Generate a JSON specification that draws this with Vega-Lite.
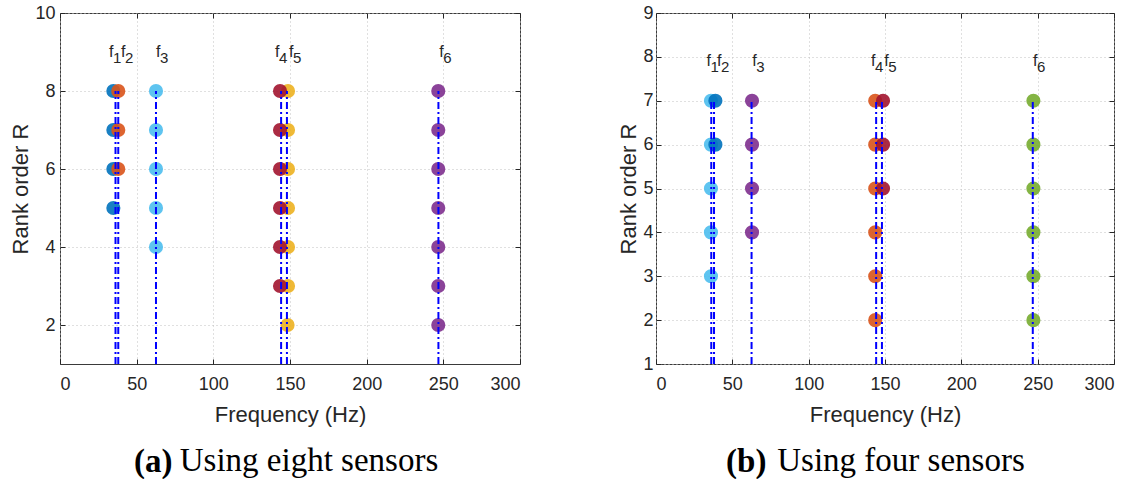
{
  "$schema": "https://vega.github.io/schema/vega-lite/v6.json",
  "background": "white",
  "padding": {"left": 9, "top": 3, "right": 5, "bottom": 0},
  "resolve": {"scale": {"color": "independent"}},
  "datasets": {
    "a_points": [
      {"mode": "f1", "freq": 34.8, "rank": 8}, {"mode": "f1", "freq": 34.8, "rank": 7}, {"mode": "f1", "freq": 34.8, "rank": 6}, {"mode": "f1", "freq": 34.8, "rank": 5},
      {"mode": "f2", "freq": 38.0, "rank": 8}, {"mode": "f2", "freq": 38.0, "rank": 7}, {"mode": "f2", "freq": 38.0, "rank": 6},
      {"mode": "f3", "freq": 62.6, "rank": 8}, {"mode": "f3", "freq": 62.6, "rank": 7}, {"mode": "f3", "freq": 62.6, "rank": 6}, {"mode": "f3", "freq": 62.6, "rank": 5}, {"mode": "f3", "freq": 62.6, "rank": 4},
      {"mode": "f5", "freq": 148.7, "rank": 8}, {"mode": "f5", "freq": 148.7, "rank": 7}, {"mode": "f5", "freq": 148.7, "rank": 6}, {"mode": "f5", "freq": 148.7, "rank": 5}, {"mode": "f5", "freq": 148.7, "rank": 4}, {"mode": "f5", "freq": 148.7, "rank": 3}, {"mode": "f5", "freq": 148.4, "rank": 2},
      {"mode": "f4", "freq": 143.5, "rank": 8}, {"mode": "f4", "freq": 143.5, "rank": 7}, {"mode": "f4", "freq": 143.5, "rank": 6}, {"mode": "f4", "freq": 143.5, "rank": 5}, {"mode": "f4", "freq": 143.5, "rank": 4}, {"mode": "f4", "freq": 143.5, "rank": 3},
      {"mode": "f6", "freq": 246.7, "rank": 8}, {"mode": "f6", "freq": 246.7, "rank": 7}, {"mode": "f6", "freq": 246.7, "rank": 6}, {"mode": "f6", "freq": 246.7, "rank": 5}, {"mode": "f6", "freq": 246.7, "rank": 4}, {"mode": "f6", "freq": 246.7, "rank": 3}, {"mode": "f6", "freq": 246.7, "rank": 2}
    ],
    "b_points": [
      {"mode": "f1", "freq": 36.0, "rank": 7}, {"mode": "f1", "freq": 36.0, "rank": 6}, {"mode": "f1", "freq": 36.0, "rank": 5}, {"mode": "f1", "freq": 36.0, "rank": 4}, {"mode": "f1", "freq": 36.0, "rank": 3},
      {"mode": "f2", "freq": 38.9, "rank": 7}, {"mode": "f2", "freq": 38.9, "rank": 6},
      {"mode": "f3", "freq": 62.9, "rank": 7}, {"mode": "f3", "freq": 62.9, "rank": 6}, {"mode": "f3", "freq": 62.9, "rank": 5}, {"mode": "f3", "freq": 62.9, "rank": 4},
      {"mode": "f4", "freq": 143.6, "rank": 7}, {"mode": "f4", "freq": 143.6, "rank": 6}, {"mode": "f4", "freq": 143.6, "rank": 5}, {"mode": "f4", "freq": 143.6, "rank": 4}, {"mode": "f4", "freq": 143.6, "rank": 3}, {"mode": "f4", "freq": 143.6, "rank": 2},
      {"mode": "f5", "freq": 148.7, "rank": 7}, {"mode": "f5", "freq": 148.7, "rank": 6}, {"mode": "f5", "freq": 148.7, "rank": 5},
      {"mode": "f6", "freq": 247.2, "rank": 7}, {"mode": "f6", "freq": 247.2, "rank": 6}, {"mode": "f6", "freq": 247.2, "rank": 5}, {"mode": "f6", "freq": 247.2, "rank": 4}, {"mode": "f6", "freq": 247.2, "rank": 3}, {"mode": "f6", "freq": 247.2, "rank": 2}
    ],
    "a_lines": [
      {"freq": 36.2, "r0": 1, "r1": 8}, {"freq": 38.0, "r0": 1, "r1": 8}, {"freq": 62.6, "r0": 1, "r1": 8},
      {"freq": 144.2, "r0": 1, "r1": 8}, {"freq": 148.0, "r0": 1, "r1": 8}, {"freq": 246.8, "r0": 1, "r1": 8}
    ],
    "b_lines": [
      {"freq": 36.2, "r0": 1, "r1": 7}, {"freq": 38.0, "r0": 1, "r1": 7}, {"freq": 62.6, "r0": 1, "r1": 7},
      {"freq": 144.2, "r0": 1, "r1": 7}, {"freq": 148.0, "r0": 1, "r1": 7}, {"freq": 246.8, "r0": 1, "r1": 7}
    ],
    "a_labels": [
      {"pos": 32.0, "rank": 9, "sub": "1"}, {"pos": 39.8, "rank": 9, "sub": "2"}, {"pos": 62.6, "rank": 9, "sub": "3"},
      {"pos": 140.2, "rank": 9, "sub": "4"}, {"pos": 149.3, "rank": 9, "sub": "5"}, {"pos": 247.3, "rank": 9, "sub": "6"}
    ],
    "b_labels": [
      {"pos": 33.0, "rank": 8, "sub": "1"}, {"pos": 40.0, "rank": 8, "sub": "2"}, {"pos": 63.0, "rank": 8, "sub": "3"},
      {"pos": 140.8, "rank": 8, "sub": "4"}, {"pos": 149.5, "rank": 8, "sub": "5"}, {"pos": 247.0, "rank": 8, "sub": "6"}
    ]
  },
  "spacing": 96,
  "hconcat": [
    {
      "title": {"text": "(a)", "fontWeight": "bold", "offset": -33, "dx": -112},
      "vconcat": [
        {
          "width": 460,
          "height": 351,
          "title": {"text": "Using eight sensors", "dx": 19},
          "resolve": {"axis": {"x": "independent", "y": "independent"}},
          "layer": [
            {
              "data": {"name": "a_points"},
              "mark": {"type": "circle", "size": 200, "opacity": 0.9},
              "encoding": {
                "x": {"field": "freq", "type": "quantitative", "scale": {"domain": [0, 300], "nice": false}, "axis": {"values": [0, 50, 100, 150, 200, 250, 300], "title": "Frequency (Hz)", "labelPadding": 16, "titlePadding": 11}},
                "y": {"field": "rank", "type": "quantitative", "scale": {"domain": [1, 10], "nice": false, "zero": false}, "axis": {"values": [2, 4, 6, 8, 10], "title": "Rank order R", "labelPadding": 10, "titlePadding": 2}},
                "color": {"field": "mode", "type": "nominal", "scale": {"domain": ["f1", "f2", "f3", "f4", "f5", "f6"], "range": ["#0072BD", "#D95319", "#4DBEEE", "#A2142F", "#EDB120", "#7E2F8E"]}, "legend": null}
              }
            },
            {
              "data": {"name": "a_lines"},
              "mark": {"type": "rule", "color": "#0000ff", "strokeWidth": 2, "strokeDash": [7, 3, 2, 3]},
              "encoding": {
                "x": {"field": "freq", "type": "quantitative", "scale": {"domain": [0, 300], "nice": false}, "axis": {"orient": "top", "values": [0, 50, 100, 150, 200, 250, 300], "labels": false, "title": null, "grid": false}},
                "y": {"field": "r0", "type": "quantitative", "scale": {"domain": [1, 10], "nice": false, "zero": false}, "axis": {"orient": "right", "values": [2, 4, 6, 8, 10], "labels": false, "title": null, "grid": false}},
                "y2": {"field": "r1"}
              }
            },
            {
              "data": {"name": "a_labels"},
              "mark": {"type": "text", "text": "f", "align": "left", "baseline": "alphabetic", "dy": 5, "font": "Liberation Sans", "fontSize": 16, "color": "#262626"},
              "encoding": {
                "x": {"field": "pos", "type": "quantitative", "axis": null},
                "y": {"field": "rank", "type": "quantitative", "axis": null}
              }
            },
            {
              "data": {"name": "a_labels"},
              "mark": {"type": "text", "align": "left", "baseline": "alphabetic", "dx": 4, "dy": 11, "font": "Liberation Sans", "fontSize": 15, "color": "#262626"},
              "encoding": {
                "x": {"field": "pos", "type": "quantitative", "axis": null},
                "y": {"field": "rank", "type": "quantitative", "axis": null},
                "text": {"field": "sub"}
              }
            }
          ]
        }
      ]
    },
    {
      "title": {"text": "(b)", "fontWeight": "bold", "offset": -33, "dx": -120},
      "vconcat": [
        {
          "width": 458,
          "height": 351,
          "title": {"text": "Using four sensors", "dx": 16},
          "resolve": {"axis": {"x": "independent", "y": "independent"}},
          "layer": [
            {
              "data": {"name": "b_points"},
              "mark": {"type": "circle", "size": 200, "opacity": 0.9},
              "encoding": {
                "x": {"field": "freq", "type": "quantitative", "scale": {"domain": [0, 300], "nice": false}, "axis": {"values": [0, 50, 100, 150, 200, 250, 300], "title": "Frequency (Hz)", "labelPadding": 16, "titlePadding": 11}},
                "y": {"field": "rank", "type": "quantitative", "scale": {"domain": [1, 9], "nice": false, "zero": false}, "axis": {"values": [1, 2, 3, 4, 5, 6, 7, 8, 9], "title": "Rank order R", "labelPadding": 8, "titlePadding": 2}},
                "color": {"field": "mode", "type": "nominal", "scale": {"domain": ["f1", "f2", "f3", "f4", "f5", "f6"], "range": ["#4DBEEE", "#0072BD", "#7E2F8E", "#D95319", "#A2142F", "#77AC30"]}, "legend": null}
              }
            },
            {
              "data": {"name": "b_lines"},
              "mark": {"type": "rule", "color": "#0000ff", "strokeWidth": 2, "strokeDash": [7, 3, 2, 3]},
              "encoding": {
                "x": {"field": "freq", "type": "quantitative", "scale": {"domain": [0, 300], "nice": false}, "axis": {"orient": "top", "values": [0, 50, 100, 150, 200, 250, 300], "labels": false, "title": null, "grid": false}},
                "y": {"field": "r0", "type": "quantitative", "scale": {"domain": [1, 9], "nice": false, "zero": false}, "axis": {"orient": "right", "values": [1, 2, 3, 4, 5, 6, 7, 8, 9], "labels": false, "title": null, "grid": false}},
                "y2": {"field": "r1"}
              }
            },
            {
              "data": {"name": "b_labels"},
              "mark": {"type": "text", "text": "f", "align": "left", "baseline": "alphabetic", "dy": 9, "font": "Liberation Sans", "fontSize": 16, "color": "#262626"},
              "encoding": {
                "x": {"field": "pos", "type": "quantitative", "axis": null},
                "y": {"field": "rank", "type": "quantitative", "axis": null}
              }
            },
            {
              "data": {"name": "b_labels"},
              "mark": {"type": "text", "align": "left", "baseline": "alphabetic", "dx": 4, "dy": 15, "font": "Liberation Sans", "fontSize": 15, "color": "#262626"},
              "encoding": {
                "x": {"field": "pos", "type": "quantitative", "axis": null},
                "y": {"field": "rank", "type": "quantitative", "axis": null},
                "text": {"field": "sub"}
              }
            }
          ]
        }
      ]
    }
  ],
  "config": {
    "view": {"stroke": "#3a3a3a", "strokeWidth": 1},
    "axis": {
      "labelFont": "Liberation Sans", "labelFontSize": 18, "labelColor": "#262626",
      "titleFont": "Liberation Sans", "titleFontSize": 22, "titleFontWeight": "normal", "titleColor": "#262626",
      "domain": false, "tickColor": "#262626", "tickSize": -5, "tickWidth": 1,
      "gridColor": "#c0c0c0", "gridDash": [1, 3], "gridWidth": 1
    },
    "title": {"font": "Liberation Serif", "fontSize": 33, "fontWeight": "normal", "color": "black", "orient": "bottom", "offset": 20, "anchor": "middle"}
  }
}
